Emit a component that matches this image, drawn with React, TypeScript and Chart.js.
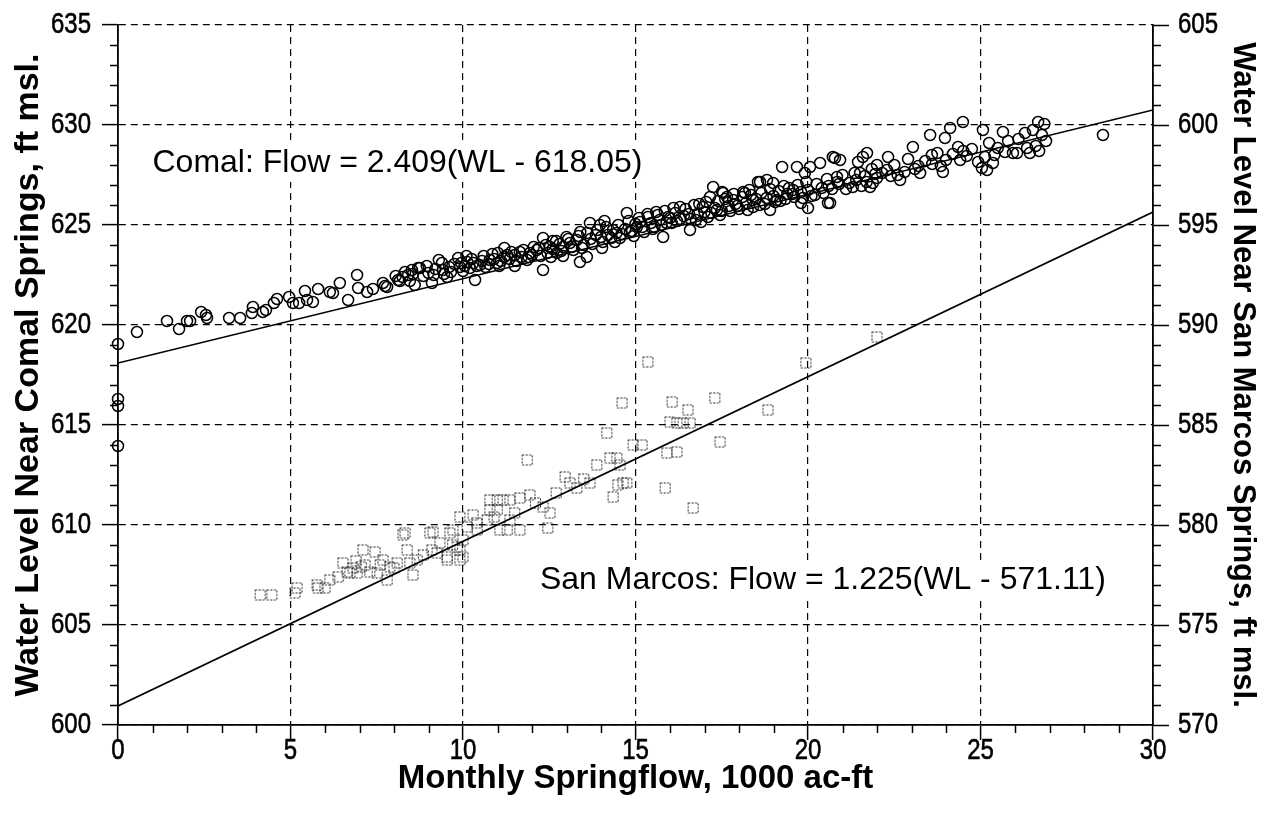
import { useEffect, useRef } from 'react';
import { Chart, registerables } from 'chart.js';
Chart.register(...registerables);

// ---------- DATA ----------
// Comal Springs: [monthly springflow (1000 ac-ft), water level (ft msl, left axis)]
const comalPoints: [number, number][] = [
  [0, 619.05], [0, 616.3], [0, 615.95], [0, 613.95], [0.55, 619.65], [1.42, 620.2], [1.77, 619.8], [2.0, 620.2],
  [2.09, 620.2], [2.41, 620.65], [2.55, 620.5], [2.58, 620.35], [3.22, 620.35], [3.54, 620.35], [3.88, 620.6],
  [3.91, 620.9], [4.2, 620.65], [4.29, 620.75], [4.52, 621.1], [4.61, 621.3], [4.96, 621.4], [5.07, 621.1],
  [5.25, 621.1], [5.42, 621.7], [5.48, 621.25], [5.65, 621.15], [5.8, 621.8], [6.14, 621.65], [6.23, 621.6],
  [6.43, 622.1], [6.67, 621.25], [6.93, 622.5], [6.96, 621.85], [7.22, 621.65], [7.39, 621.8], [7.68, 622.1],
  [7.74, 621.95], [7.8, 621.9], [8.12, 622.25], [8.17, 622.2], [8.32, 622.65], [8.41, 622.5], [8.46, 622.2],
  [8.52, 622.75], [8.6, 622.0], [8.7, 622.85], [8.75, 622.85], [9.1, 622.1], [9.39, 623.1], [9.42, 622.75],
  [9.54, 622.4], [9.86, 623.35], [9.91, 622.9], [10.12, 623.15], [10.2, 622.85], [10.35, 622.25], [10.49, 623.0],
  [10.78, 623.25], [10.99, 623.1], [11.01, 623.6], [11.28, 623.5], [11.65, 623.65], [11.86, 623.25], [11.94, 623.6],
  [12.14, 623.75], [12.32, 624.35], [12.32, 622.75], [12.52, 623.9], [12.72, 623.6], [13.0, 624.4], [13.16, 623.9],
  [13.39, 623.15], [13.59, 623.4], [13.68, 625.1], [13.97, 625.0], [14.03, 623.85], [14.35, 624.75], [14.75, 625.6],
  [14.84, 624.65], [15.04, 624.9], [15.13, 625.15], [15.36, 625.4], [15.8, 624.4], [16.29, 625.9], [16.58, 624.75],
  [17.16, 626.4], [17.25, 626.9], [17.36, 625.75], [17.51, 626.65], [17.54, 626.6], [17.83, 626.25], [18.12, 626.65],
  [18.17, 626.6], [18.41, 625.9], [18.55, 627.15], [18.61, 627.15], [18.81, 627.25], [18.99, 627.1], [19.1, 626.25],
  [19.25, 627.9], [19.57, 626.75], [19.68, 627.9], [19.91, 627.6], [20.0, 625.85], [20.06, 627.9], [20.35, 628.1],
  [20.58, 626.1], [20.64, 626.1], [20.72, 628.4], [20.78, 628.35], [20.84, 627.4], [20.93, 628.25], [21.3, 626.9],
  [21.45, 628.15], [21.51, 627.6], [21.59, 628.4], [21.71, 628.6], [21.8, 626.9], [21.88, 627.1], [22.0, 628.0],
  [22.29, 627.75], [22.32, 628.4], [22.67, 627.25], [23.04, 628.9], [23.25, 627.6], [23.54, 629.5], [23.59, 628.5],
  [23.91, 627.65], [23.97, 629.35], [24.12, 629.85], [24.35, 628.9], [24.41, 628.25], [24.49, 630.15], [24.93, 628.15],
  [25.04, 627.85], [25.07, 629.75], [25.13, 628.4], [25.19, 627.75], [25.36, 628.1], [25.65, 629.65], [25.71, 628.65],
  [25.94, 628.6], [26.06, 628.6], [26.29, 629.6], [26.43, 628.6], [26.52, 629.75], [26.67, 630.15], [26.78, 629.5],
  [28.55, 629.5],
  [9.0, 622.6], [9.2, 622.8], [9.6, 622.9], [9.75, 623.05], [10.0, 622.7], [10.3, 623.1], [10.55, 623.2], [10.65, 622.9],
  [10.9, 623.3], [11.1, 623.2], [11.35, 623.3], [11.5, 623.5], [11.7, 623.4], [12.0, 623.5], [12.2, 623.85], [12.45, 623.6],
  [12.6, 623.8], [12.8, 624.05], [12.9, 623.9], [13.1, 624.1], [13.3, 624.25], [13.5, 624.0], [13.7, 624.3], [13.85, 624.5],
  [14.0, 624.4], [14.2, 624.5], [14.45, 624.6], [14.55, 624.35], [14.7, 624.8], [14.9, 624.7], [15.0, 625.05], [15.2, 624.9],
  [15.45, 625.1], [15.55, 624.9], [15.7, 625.25], [15.9, 625.1], [16.0, 625.35], [16.2, 625.2], [16.4, 625.45], [16.6, 625.3],
  [16.8, 625.55], [17.0, 625.65], [17.1, 625.4], [17.3, 625.85], [17.5, 625.7], [17.7, 625.95], [17.9, 626.05], [18.0, 625.8],
  [18.2, 626.1], [18.4, 626.25], [18.6, 626.0], [18.8, 626.35], [19.0, 626.45], [19.2, 626.2], [19.4, 626.55], [19.6, 626.4],
  [19.8, 626.65], [20.0, 626.75], [20.2, 626.5], [20.4, 626.85], [20.6, 626.95], [20.9, 627.05], [21.1, 626.8], [21.4, 627.25],
  [21.7, 627.15], [22.0, 627.35], [22.4, 627.45], [22.8, 627.65], [23.2, 627.95], [23.6, 628.05], [24.0, 628.25], [24.6, 628.45],
  [25.5, 628.85], [26.6, 628.95], [26.85, 630.05],
  [15.6, 625.65], [16.1, 625.85], [16.85, 626.05], [17.6, 626.3], [18.3, 626.75], [19.3, 626.95], [12.6, 624.2], [11.2, 623.85],
  [13.4, 624.65], [14.1, 625.2], [10.1, 623.45], [9.3, 623.25],
  [12.9, 623.45], [14.4, 624.15], [16.9, 625.15], [18.9, 625.75], [19.8, 626.1], [11.5, 622.95],
  [8.05, 622.45], [8.25, 622.4], [8.55, 622.55], [8.85, 622.45], [8.95, 622.95], [9.15, 622.5], [9.45, 622.55], [9.65, 622.65],
  [9.95, 623.1], [10.05, 622.95], [10.25, 623.3], [10.4, 622.95], [10.6, 623.45], [10.75, 623.05], [10.85, 623.55], [11.05, 622.95],
  [11.2, 623.4], [11.4, 623.65], [11.55, 623.2], [11.75, 623.75], [11.9, 623.4], [12.05, 623.9], [12.25, 623.45], [12.4, 624.0],
  [12.55, 623.4], [12.7, 624.2], [12.85, 623.7], [13.05, 624.3], [13.2, 623.75], [13.35, 624.45], [13.45, 623.85], [13.6, 624.6],
  [13.75, 624.05], [13.9, 624.75], [14.05, 624.15], [14.15, 624.9], [14.3, 624.35], [14.5, 625.0], [14.6, 624.55], [14.8, 625.2],
  [14.95, 624.45], [15.1, 625.35], [15.25, 624.65], [15.35, 625.55], [15.5, 624.8], [15.65, 625.5], [15.75, 625.0], [15.85, 625.7],
  [15.95, 625.4], [16.05, 625.1], [16.15, 625.6], [16.3, 625.3], [16.45, 625.8], [16.55, 625.55], [16.7, 626.0], [16.75, 625.25],
  [16.95, 625.9], [17.05, 626.15], [17.2, 625.6], [17.4, 626.2], [17.45, 625.5], [17.65, 626.4], [17.75, 625.7], [17.85, 626.55],
  [17.95, 625.95], [18.1, 626.4], [18.25, 625.75], [18.35, 626.5], [18.5, 626.3], [18.65, 626.6], [18.75, 626.05], [18.9, 626.8],
  [19.05, 626.15], [19.15, 626.7], [19.35, 626.3], [19.45, 626.85], [19.55, 626.55], [19.7, 627.0], [19.85, 626.35], [19.95, 627.15],
  [20.1, 626.45], [20.25, 627.05], [20.45, 626.6], [20.55, 627.3], [20.7, 626.8], [20.85, 627.15], [21.0, 627.5], [21.2, 627.1],
  [21.35, 627.6], [21.55, 626.95], [21.65, 627.45], [21.85, 627.8], [21.95, 627.55], [22.15, 627.6], [22.5, 628.0], [22.6, 627.5],
  [22.9, 628.3], [23.1, 627.8], [23.4, 628.2], [23.75, 628.6], [23.85, 627.95], [24.2, 628.55], [24.5, 628.7], [24.75, 628.8],
  [25.25, 629.1], [25.4, 628.5], [25.8, 629.2], [26.1, 629.3], [26.35, 628.85], [26.7, 628.7], [26.9, 629.2],
];

// San Marcos Springs: [monthly springflow (1000 ac-ft), water level (ft msl, right axis)]
const sanMarcosPoints: [number, number][] = [
  [4.12, 576.5], [4.46, 576.5], [5.13, 576.6], [5.19, 576.85], [5.77, 577.0], [5.8, 576.85], [6.0, 576.85], [6.14, 577.25],
  [6.38, 577.4], [6.52, 578.1], [6.64, 577.65], [6.72, 577.6], [6.81, 577.85], [6.93, 577.6], [7.1, 578.75], [7.16, 578.0],
  [7.3, 577.65], [7.45, 578.65], [7.51, 577.6], [7.68, 578.25], [7.8, 577.25], [7.88, 577.9], [8.09, 578.1], [8.26, 579.5],
  [8.32, 579.6], [8.38, 578.75], [8.46, 578.1], [8.55, 577.5], [8.67, 578.25], [9.04, 579.6], [9.1, 578.75], [9.13, 579.65],
  [9.33, 579.1], [9.54, 578.4], [9.54, 578.25], [9.62, 579.6], [9.71, 579.75], [9.83, 578.9], [9.91, 580.4], [9.91, 578.75],
  [9.91, 578.25], [10.0, 579.25], [10.0, 578.4], [10.12, 579.9], [10.29, 580.5], [10.41, 579.75], [10.7, 580.25], [10.78, 581.25],
  [10.78, 580.75], [10.99, 581.25], [10.99, 580.75], [11.07, 579.75], [11.16, 581.25], [11.28, 579.75], [11.36, 581.25],
  [11.36, 580.25], [11.65, 581.35], [11.65, 579.75], [11.86, 583.25], [11.94, 581.5], [12.32, 580.9], [12.46, 579.85],
  [12.52, 580.6], [12.96, 582.4], [13.1, 582.1], [13.3, 581.85], [13.68, 582.1], [13.88, 583.0], [14.17, 584.6], [14.26, 583.35],
  [14.35, 581.4], [14.46, 583.35], [14.49, 582.0], [14.55, 583.0], [14.61, 586.1], [14.64, 582.1], [14.75, 582.1], [14.93, 584.0],
  [15.19, 584.0], [15.36, 588.15], [15.86, 581.85], [15.91, 583.6], [16.0, 585.15], [16.06, 586.15], [16.2, 583.65],
  [16.2, 585.1], [16.38, 585.1], [16.52, 585.75], [16.58, 585.1], [16.67, 580.85], [17.3, 586.35], [17.45, 584.15],
  [18.84, 585.75], [19.94, 588.1], [22.0, 589.4],
  [6.9, 578.2], [7.05, 577.9], [7.6, 578.0], [8.0, 577.85], [8.85, 578.5], [9.25, 578.6], [9.7, 579.0], [10.4, 580.1],
  [10.9, 580.4], [11.5, 580.6], [12.1, 581.1], [12.7, 581.6], [13.5, 582.3],
];

// Fitted lines (end points read at x = 0 and x = 30)
const fitFlow = [0, 30];
const comalFitLevel = [618.1, 630.75];
const sanMarcosFitLevel = [570.95, 595.65];

const comalLabel = 'Comal: Flow = 2.409(WL - 618.05)';
const sanMarcosLabel = 'San Marcos: Flow = 1.225(WL - 571.11)';
const xTitle = 'Monthly Springflow, 1000 ac-ft';
const leftTitle = 'Water Level Near Comal Springs, ft msl.';
const rightTitle = 'Water Level Near San Marcos Springs, ft msl.';

// ---------- STYLE ----------
const TEXT_FONT = "'Liberation Sans', Arial, sans-serif";
const comalLabelPos = { x: 1.0, y: 628.1 };
const sanMarcosLabelPos = { x: 12.23, y: 577.25 };

function makeDottedSquare(): HTMLCanvasElement {
  const c = document.createElement('canvas');
  c.width = 13;
  c.height = 13;
  const g = c.getContext('2d')!;
  g.strokeStyle = '#222';
  g.lineWidth = 1;
  g.setLineDash([2, 1.5]);
  g.strokeRect(1.5, 1.5, 10, 10);
  return c;
}

const overlayPlugin = {
  id: 'overlay',
  afterDraw(chart: any) {
    const { ctx, chartArea, scales } = chart;
    const xs = scales.x, ys = scales.y, y2 = scales.y2;
    ctx.save();
    ctx.strokeStyle = '#000';
    ctx.lineWidth = 1.5;
    ctx.setLineDash([]);
    ctx.beginPath();
    for (let v = 0; v <= 30; v++) {
      if (v % 5 === 0) continue;
      const px = Math.round(xs.getPixelForValue(v)) + 0.5;
      ctx.moveTo(px, chartArea.bottom);
      ctx.lineTo(px, chartArea.bottom + 8);
    }
    for (let v = 600; v <= 635; v++) {
      if (v % 5 === 0) continue;
      const py = Math.round(ys.getPixelForValue(v)) + 0.5;
      ctx.moveTo(chartArea.left - 8, py);
      ctx.lineTo(chartArea.left, py);
    }
    for (let v = 570; v <= 605; v++) {
      if (v % 5 === 0) continue;
      const py = Math.round(y2.getPixelForValue(v)) + 0.5;
      ctx.moveTo(chartArea.right, py);
      ctx.lineTo(chartArea.right + 8, py);
    }
    ctx.stroke();

    // condensed tick labels
    ctx.fillStyle = '#000';
    ctx.strokeStyle = '#000';
    ctx.lineWidth = 0.6;
    ctx.font = `30px ${TEXT_FONT}`;
    ctx.textBaseline = 'middle';
    const drawCond = (text: string, px: number, py: number, align: 'left' | 'right' | 'center') => {
      ctx.save();
      ctx.translate(px, py);
      ctx.scale(0.8, 1);
      ctx.textAlign = align;
      ctx.fillText(text, 0, 0);
      ctx.strokeText(text, 0, 0);
      ctx.restore();
    };
    xs.ticks.forEach((t: any) => drawCond(String(t.value), xs.getPixelForValue(t.value), 751, 'center'));
    ys.ticks.forEach((t: any) => drawCond(String(t.value), 91, ys.getPixelForValue(t.value), 'right'));
    y2.ticks.forEach((t: any) => drawCond(String(t.value), 1178, y2.getPixelForValue(t.value), 'left'));

    const drawLabel = (text: string, px: number, py: number) => {
      ctx.font = `32px ${TEXT_FONT}`;
      const w = ctx.measureText(text).width;
      ctx.fillStyle = '#fff';
      ctx.fillRect(px - 3, py - 19, w + 6, 38);
      ctx.fillStyle = '#000';
      ctx.textAlign = 'left';
      ctx.textBaseline = 'middle';
      ctx.fillText(text, px, py);
    };
    drawLabel(comalLabel, xs.getPixelForValue(comalLabelPos.x), ys.getPixelForValue(comalLabelPos.y));
    drawLabel(sanMarcosLabel, xs.getPixelForValue(sanMarcosLabelPos.x), y2.getPixelForValue(sanMarcosLabelPos.y));
    ctx.restore();
  },
};

export default function App() {
  const ref = useRef<HTMLCanvasElement | null>(null);
  useEffect(() => {
    if (!ref.current) return;
    const square = makeDottedSquare();
    const noTicks = { display: false, stepSize: 5 };
    const chart = new Chart(ref.current, {
      type: 'scatter',
      data: {
        datasets: [
          {
            label: 'San Marcos',
            data: sanMarcosPoints.map(([x, y]) => ({ x, y })),
            yAxisID: 'y2',
            pointStyle: square as any,
            pointRadius: 6,
            showLine: false,
            order: 3,
          },
          {
            label: 'Comal',
            data: comalPoints.map(([x, y]) => ({ x, y })),
            yAxisID: 'y',
            pointStyle: 'circle',
            pointRadius: 5.5,
            borderColor: '#000',
            backgroundColor: 'rgba(0,0,0,0)',
            borderWidth: 1.5,
            showLine: false,
            clip: false,
            order: 2,
          },
          {
            type: 'line',
            label: 'Comal fit',
            data: fitFlow.map((x, i) => ({ x, y: comalFitLevel[i] })),
            yAxisID: 'y',
            borderColor: '#000',
            borderWidth: 1.6,
            pointRadius: 0,
            fill: false,
            order: 1,
          },
          {
            type: 'line',
            label: 'San Marcos fit',
            data: fitFlow.map((x, i) => ({ x, y: sanMarcosFitLevel[i] })),
            yAxisID: 'y2',
            borderColor: '#000',
            borderWidth: 1.6,
            pointRadius: 0,
            fill: false,
            order: 1,
          },
        ],
      },
      options: {
        animation: false,
        responsive: false,
        devicePixelRatio: 1,
        layout: { padding: { top: 25, left: 0, right: 0, bottom: 0 } },
        plugins: { legend: { display: false }, tooltip: { enabled: false }, title: { display: false } },
        scales: {
          x: {
            type: 'linear',
            min: 0,
            max: 30,
            ticks: noTicks,
            grid: { color: '#000', lineWidth: 1.2, tickLength: 15, tickColor: '#000', tickWidth: 1.5 },
            border: { display: true, color: '#000', width: 1.8, dash: [7, 5] },
            title: { display: true, text: xTitle, color: '#000', font: { family: TEXT_FONT, size: 33, weight: 'bold' }, padding: { top: 0, bottom: 21 } },
            afterFit: (s: any) => { s.height = 95; },
          },
          y: {
            type: 'linear',
            position: 'left',
            min: 600,
            max: 635,
            ticks: noTicks,
            grid: { color: '#000', lineWidth: 1.2, tickLength: 16, tickColor: '#000', tickWidth: 1.5 },
            border: { display: true, color: '#000', width: 1.8, dash: [7, 5] },
            title: { display: true, text: leftTitle, color: '#000', font: { family: TEXT_FONT, size: 34, weight: 'bold' }, padding: { top: 8, bottom: 0 } },
            afterFit: (s: any) => { s.width = 118; },
          },
          y2: {
            type: 'linear',
            position: 'right',
            min: 570,
            max: 605,
            ticks: noTicks,
            grid: { drawOnChartArea: false, color: '#000', tickLength: 16, tickColor: '#000', tickWidth: 1.5 },
            border: { display: true, color: '#000', width: 1.8 },
            title: { display: true, text: rightTitle, color: '#000', font: { family: TEXT_FONT, size: 31, weight: 'bold' }, padding: { top: 3, bottom: 0 } },
            afterFit: (s: any) => { s.width = 111; },
          },
        },
      },
      plugins: [overlayPlugin],
    } as any);
    return () => chart.destroy();
  }, []);
  return (
    <div style={{ position: 'absolute', left: 0, top: 0, width: 1264, height: 820, background: '#fff' }}>
      <canvas ref={ref} width={1264} height={820} style={{ display: 'block' }} />
    </div>
  );
}
